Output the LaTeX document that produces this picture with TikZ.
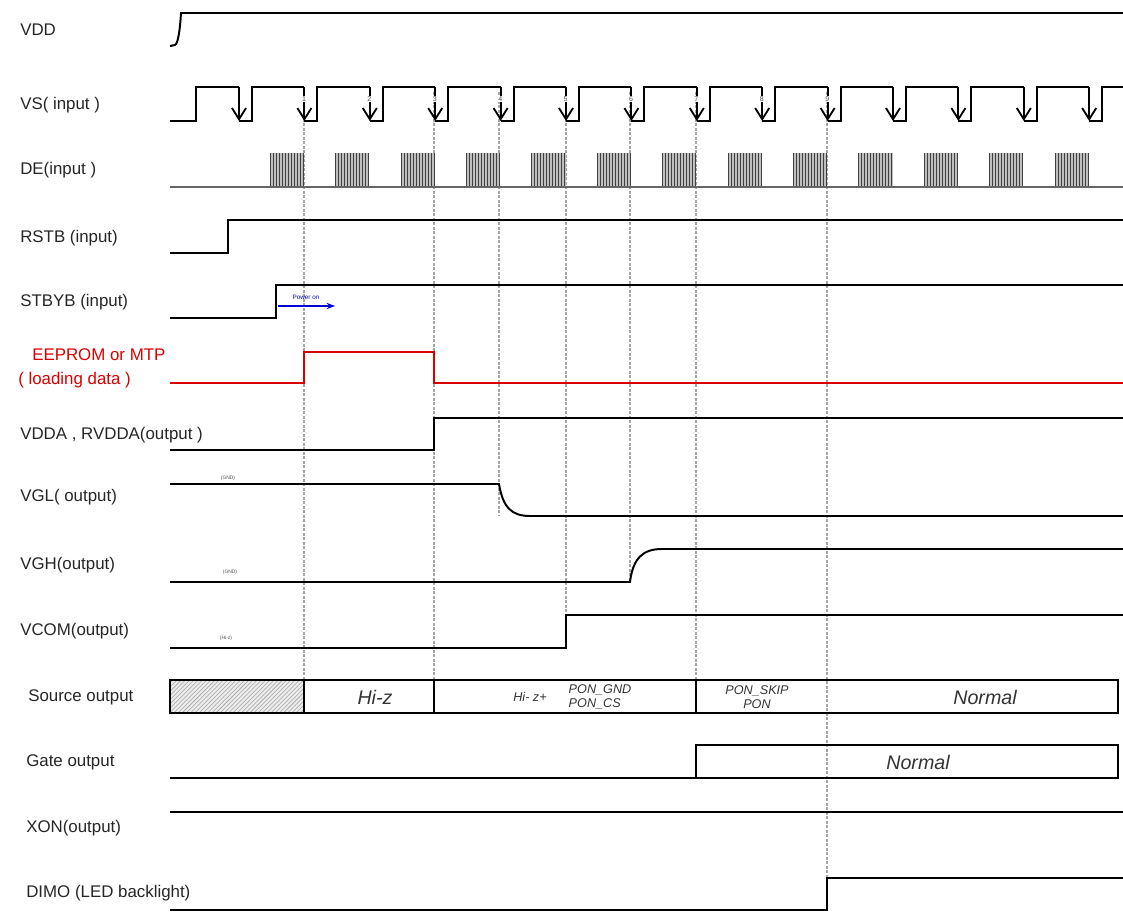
\documentclass[tikz,border=0pt]{standalone}
\usepackage{fontspec}
\setmainfont{Liberation Sans}
\usetikzlibrary{arrows.meta, patterns}

\begin{document}
\begin{tikzpicture}[
    % pixel grid of the sheet, y running down
    x=0.025cm, y=-0.025cm,
    sig/.style={line width=1.4pt, black},
    redsig/.style={line width=1.4pt, red!85!black},
    vsedge/.style={line width=1.4pt, -{Straight Barb[length=8pt, width=10pt, line width=1.3pt]}},
    guide/.style={gray!70, line width=1.1pt, dash pattern=on 2pt off 1.2pt},
    lbl/.style={anchor=west, inner sep=0pt, font=\fontsize{12}{14}\selectfont, text=black!85},
    tinylbl/.style={inner sep=0pt, font=\fontsize{3.5}{4}\selectfont, text=black!70},
    boxtxt/.style={inner sep=0pt, font=\fontsize{14}{16}\selectfont\itshape, text=black!80},
    smalltxt/.style={inner sep=0pt, font=\fontsize{9}{10}\selectfont\itshape, text=black!80, align=center}
]
\useasboundingbox (0,0) rectangle (1123,912);

%% ── Signal names ────────────────────────────────────────────
\node (lvdd)  [lbl] at (20,30)  {VDD};
\node (lvs)   [lbl] at (20,105) {VS( input )};
\node (lde)   [lbl] at (20,170) {DE(input )};
\node (lrstb) [lbl] at (20,238) {RSTB (input)};
\node (lstby) [lbl] at (20,302) {STBYB (input)};
\node (lrom)  [lbl, text=red!85!black] at (32,355) {EEPROM or MTP};
\node (lload) [lbl, text=red!85!black] at (18,380) {( loading data )};
\node (lvdda) [lbl] at (20,435) {VDDA , RVDDA(output )};
\node (lvgl)  [lbl] at (20,497) {VGL( output)};
\node (lvgh)  [lbl] at (20,565) {VGH(output)};
\node (lvcom) [lbl] at (20,631) {VCOM(output)};
\node (lsrc)  [lbl] at (28,697) {Source output};
\node (lgate) [lbl] at (26,762) {Gate output};
\node (lxon)  [lbl] at (26,828) {XON(output)};
\node (ldimo) [lbl] at (26,893) {DIMO (LED backlight)};

%% ── Frame guides ────────────────────────────────────────────
\foreach \gx/\gy in {304/680, 434/680, 499/516, 566/615, 630/582, 696/680, 827/878}
    \draw [guide] (\gx,92) -- (\gx,\gy);

%% ── VDD ─────────────────────────────────────────────────────
\draw [sig] (170,46) -- (175,45) .. controls (178,44) and (180,30) .. (181,13) -- (1123,13);

%% ── VS ──────────────────────────────────────────────────────
\draw [sig] (170,121) -- (196,121) -- (196,87) -- (239,87);
\foreach \k in {0,...,13} {
    \pgfmathsetmacro\fa{239+65.4*\k}
    \pgfmathsetmacro\fb{min(239+65.4*(\k+1),1123)}
    \draw [vsedge] (\fa,87) -- (\fa,121);
    \draw [sig] (\fa,121) -- (\fa+13,121) -- (\fa+13,87) -- (\fb,87);
}
\foreach \i in {1,...,9}
    \node (n\i) [tinylbl, font=\fontsize{5}{5}\selectfont, fill=white, inner sep=0.3pt] at ({304+65.4*(\i-1)},99) {\i};

%% ── DE ──────────────────────────────────────────────────────
\foreach \k in {0,...,12} {
    \pgfmathsetmacro\ba{270+65.4*\k}
    \fill [gray!50] (\ba,153) rectangle (\ba+34,187);
    \foreach \j in {0,3,...,33}
        \draw [black!75, line width=0.35pt] (\ba+\j,153) -- (\ba+\j,187);
}
\draw [black!60, line width=1.2pt] (170,187) -- (1123,187);

%% ── RSTB / STBYB ────────────────────────────────────────────
\draw [sig] (170,253) -- (228,253) -- (228,220) -- (1123,220);
\draw [sig] (170,318) -- (276,318) -- (276,285) -- (1123,285);
\draw [blue!85!black, line width=1.2pt, -{Stealth[length=6pt]}] (278,306) -- (335,306);
\node (pwron) [tinylbl, font=\fontsize{4.5}{5}\selectfont, text=blue!80!black] at (306,297) {Power on};

%% ── EEPROM / MTP loading ────────────────────────────────────
\draw [redsig] (170,383) -- (304,383) -- (304,352) -- (434,352) -- (434,383) -- (1123,383);

%% ── Supplies ────────────────────────────────────────────────
\draw [sig] (170,450) -- (434,450) -- (434,418) -- (1123,418);
\draw [sig] (170,484) -- (499,484) .. controls (503,508) and (512,516) .. (530,516) -- (1123,516);
\node (gnd1) [tinylbl] at (228,478) {(GND)};
\draw [sig] (170,582) -- (630,582) .. controls (633,558) and (643,549) .. (662,549) -- (1123,549);
\node (gnd2) [tinylbl] at (230,572) {(GND)};
\draw [sig] (170,648) -- (566,648) -- (566,615) -- (1123,615);
\node (hiz0) [tinylbl] at (226,638) {(Hi-z)};

%% ── Source output ───────────────────────────────────────────
\fill [gray!15] (170,680) rectangle (304,713);
\fill [pattern=north east lines, pattern color=gray!70] (170,680) rectangle (304,713);
\draw [sig] (170,680) rectangle (1118,713);
\foreach \dx in {304, 434, 696}
    \draw [sig] (\dx,680) -- (\dx,713);
\node (shiz)  [boxtxt] at (375,697) {Hi-z};
\node (shizp) [smalltxt] at (530,697) {Hi- z+};
\node (spon)  [smalltxt, align=left] at (600,697) {PON\_GND\\PON\_CS};
\node (sskip) [smalltxt] at (757,697) {PON\_SKIP\\PON};
\node (snorm) [boxtxt] at (985,697) {Normal};

%% ── Gate output ─────────────────────────────────────────────
\draw [sig] (170,778) -- (1118,778) -- (1118,745) -- (696,745) -- (696,778);
\node (gnorm) [boxtxt] at (918,762) {Normal};

%% ── XON / DIMO ──────────────────────────────────────────────
\draw [sig] (170,812) -- (1123,812);
\draw [sig] (170,910) -- (827,910) -- (827,878) -- (1123,878);

\end{tikzpicture}
\end{document}
